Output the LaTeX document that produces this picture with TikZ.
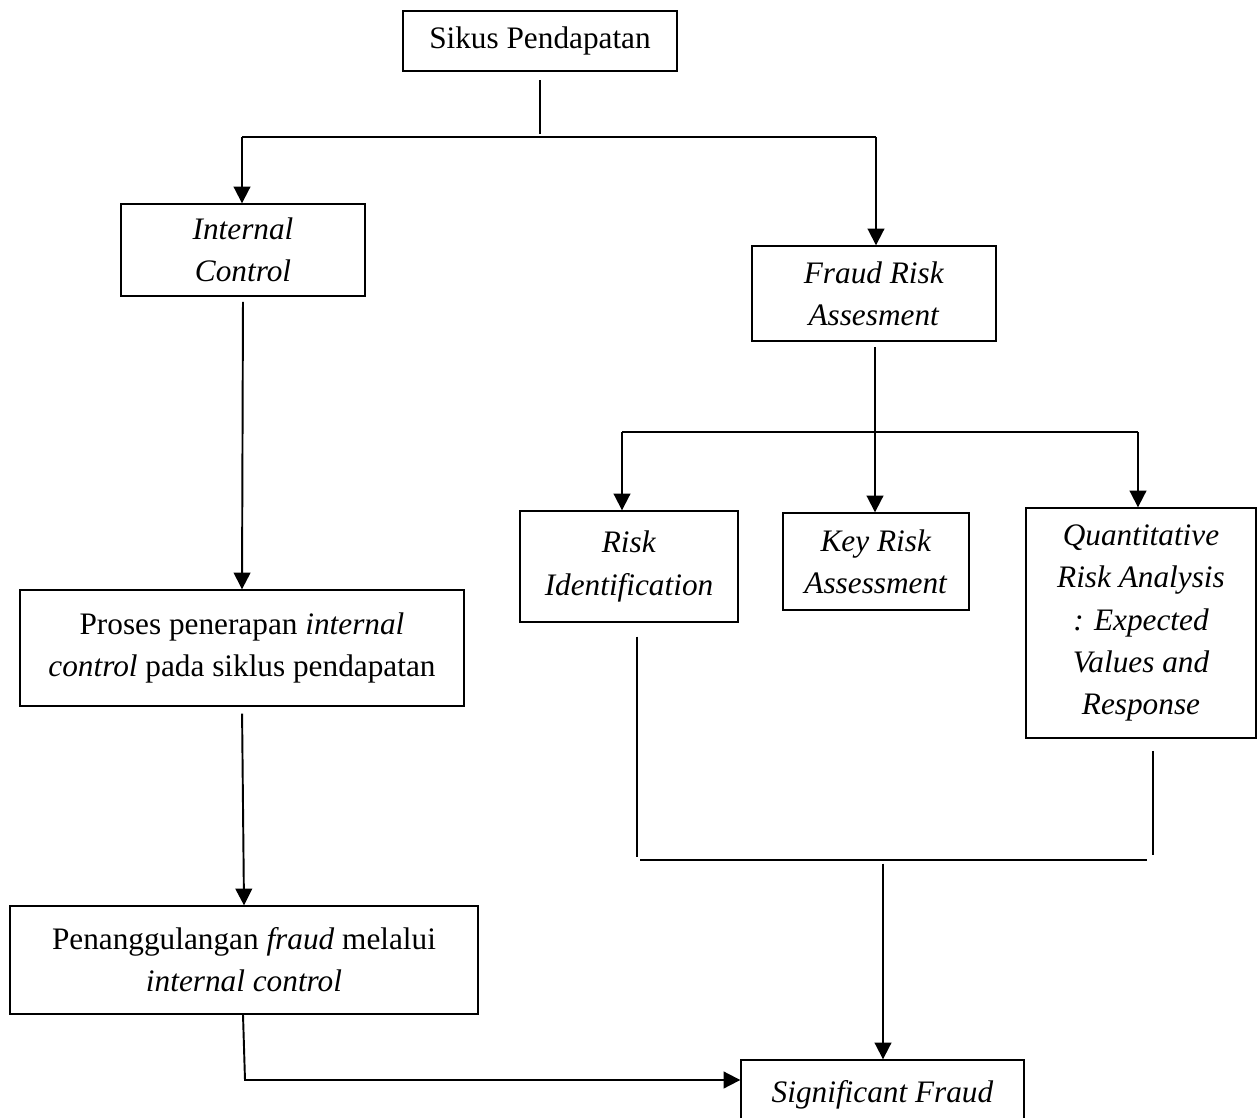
\documentclass[tikz,border=0pt]{standalone}
\usepackage{fontspec}
\setmainfont{Liberation Serif}
\usetikzlibrary{arrows.meta}

\tikzset{
  box/.style={draw, line width=0.8pt, align=center, inner sep=0pt},
  arr/.style={-{Triangle[length=9.5pt,width=9.5pt]}, line width=1.1pt},
  ln/.style={line width=1.1pt}
}

\begin{document}
\begin{tikzpicture}[x=0.02cm, y=-0.02cm, font=\fontsize{17.8}{24}\selectfont]
 \useasboundingbox (0,0) rectangle (1258,1118);
 % boxes
 \node[box, minimum width=5.48cm, minimum height=1.2cm] (sikus) at (540,41) {Sikus Pendapatan};
 \node[box, minimum width=4.88cm, minimum height=1.84cm] (ic) at (243,250) {\textit{Internal}\\\textit{Control}};
 \node[box, minimum width=4.88cm, minimum height=1.9cm] (fra) at (874,293.5) {\textit{Fraud Risk}\\\textit{Assesment}};
 \node[box, minimum width=8.88cm, minimum height=2.32cm] (pros) at (242,648) {Proses penerapan \textit{internal}\\\textit{control} pada siklus pendapatan};
 \node[box, minimum width=9.36cm, minimum height=2.16cm] (pen) at (244,960) {Penanggulangan \textit{fraud} melalui\\\textit{internal control}};
 \node[box, minimum width=4.36cm, minimum height=2.22cm] (rid) at (629,566.5) {\textit{Risk}\\\textit{Identification}};
 \node[box, minimum width=3.72cm, minimum height=1.94cm] (kra) at (876,561.5) {\textit{Key Risk}\\\textit{Assessment}};
 \node[box, minimum width=4.6cm, minimum height=4.6cm] (qra) at (1141,623) {\textit{Quantitative}\\\textit{Risk Analysis}\\\textit{: Expected}\\\textit{Values and}\\\textit{Response}};
 \node[box, minimum width=5.66cm, minimum height=2.0cm] (sig) at (882.5,1110) {};
 \node (sigtxt) at (882.5,1095) {\textit{Significant Fraud}};
 % top split
 \coordinate (tl) at (242,137);
 \coordinate (tr) at (876,137);
 \draw[ln, shorten <=5pt, shorten >=0.06cm] (sikus.south) -- (sikus.south |- tl);
 \draw[ln] (tl) -- (tr);
 \draw[arr] (tl) -- (ic.north -| tl);
 \draw[arr] (tr) -- (fra.north -| tr);
 % left column
 \draw[arr, shorten <=3pt] (ic.south) -- (pros.north);
 \draw[arr, shorten <=4pt] (pros.south) -- (pen.north);
 \coordinate (bl) at (245,1080);
 \draw[arr] (pen.south -| 243,0) -- (bl) -- (sig.west |- bl);
 % risk split
 \coordinate (rl) at (622,432);
 \coordinate (rr) at (1138,432);
 \coordinate (rm) at (875,432);
 \draw[ln, shorten <=3pt] (fra.south -| rm) -- (rm);
 \draw[ln] (rl) -- (rr);
 \draw[arr] (rl) -- (rid.north -| rl);
 \draw[arr] (rm) -- (kra.north -| rm);
 \draw[arr] (rr) -- (qra.north -| rr);
 % join to significant fraud
 \coordinate (jl) at (637,857);
 \coordinate (jr) at (1153,855);
 \coordinate (jm) at (883,860);
 \draw[ln, shorten <=8pt] (rid.south -| jl) -- (jl);
 \draw[ln, shorten <=7pt] (qra.south -| jr) -- (jr);
 \draw[ln] (640,860) -- (1147,860);
 \draw[arr, shorten <=2pt] (jm) -- (sig.north -| jm);
\end{tikzpicture}
\end{document}
